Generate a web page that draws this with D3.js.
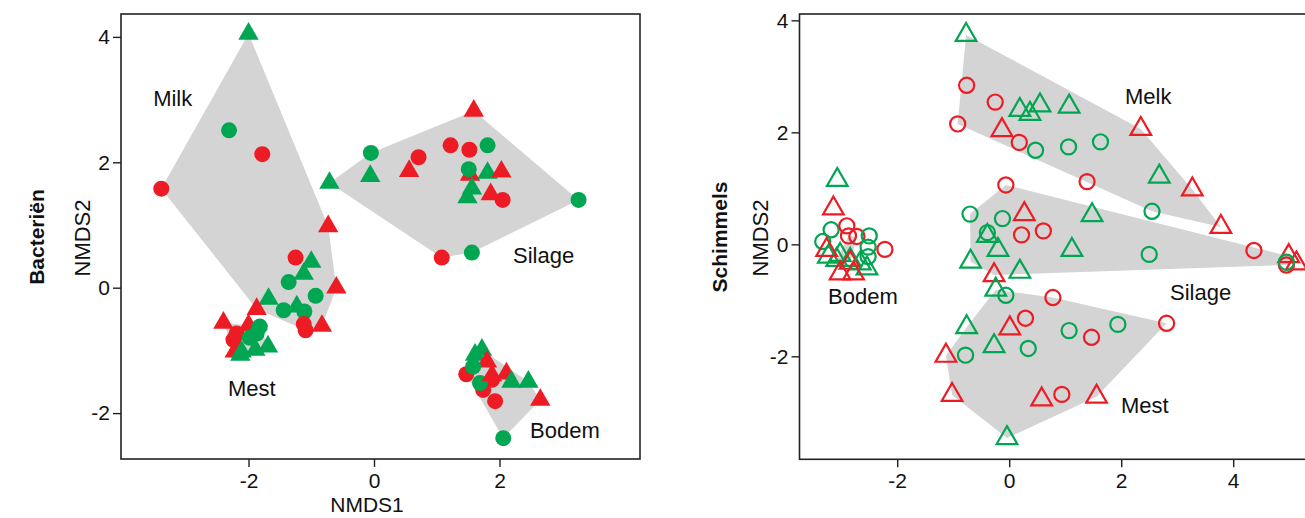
<!DOCTYPE html>
<html>
<head>
<meta charset="utf-8">
<script src="https://cdn.jsdelivr.net/npm/d3@7"></script>
<style>
  body { margin: 0; background: #fff; }
  svg { display: block; font-family: "Liberation Sans", Arial, sans-serif; }
</style>
</head>
<body>
<svg id="chart" width="1305" height="518"></svg>
<script>
// points: [NMDS1, NMDS2, colour+shape]  r/g = red/green, c/t = circle/triangle

// --- Bacterien ---
var bacMilk = [
    [-2.00, 4.05, "gt"], [-3.39, 1.58, "rc"], [-2.31, 2.51, "gc"], [-1.78, 2.13, "rc"],
    [-0.73, 0.98, "rt"], [-1.25, 0.48, "rc"], [-1.00, 0.41, "gt"], [-1.12, 0.22, "gt"],
    [-1.36, 0.09, "gc"], [-0.93, -0.13, "gc"], [-0.60, 0.00, "rt"], [-1.68, -0.18, "gt"],
    [-1.44, -0.36, "gc"], [-1.23, -0.30, "gt"], [-1.11, -0.38, "gc"], [-1.87, -0.34, "rt"],
    [-1.12, -0.58, "rc"], [-1.09, -0.68, "rc"], [-0.83, -0.61, "rt"]
];
var bacMest = [
    [-2.40, -0.56, "rt"], [-2.00, -0.60, "rt"], [-2.22, -1.02, "rt"], [-2.19, -0.73, "rc"],
    [-2.24, -0.83, "rc"], [-1.82, -0.62, "gc"], [-1.98, -0.80, "gc"], [-1.87, -0.73, "gc"],
    [-1.69, -0.94, "gt"], [-2.11, -1.02, "gt"], [-1.89, -0.99, "gt"], [-2.13, -1.07, "gt"]
];
var bacSilage = [
    [-0.71, 1.67, "gt"], [-0.05, 2.15, "gc"], [-0.06, 1.78, "gt"], [0.71, 2.08, "rc"],
    [0.56, 1.86, "rt"], [1.22, 2.27, "rc"], [1.52, 2.20, "rc"], [1.81, 2.27, "gc"],
    [1.59, 2.82, "rt"], [1.53, 1.80, "rt"], [1.51, 1.89, "gc"], [1.81, 1.83, "gt"],
    [2.03, 1.85, "rt"], [1.56, 1.58, "gt"], [1.49, 1.44, "gt"], [1.86, 1.49, "rt"],
    [2.05, 1.40, "rc"], [3.26, 1.40, "gc"], [1.08, 0.48, "rc"], [1.56, 0.56, "gc"]
];
var bacBodem = [
    [1.72, -0.99, "gt"], [1.61, -1.07, "gt"], [1.80, -1.18, "rt"], [1.47, -1.38, "rc"],
    [1.58, -1.26, "gc"], [1.74, -1.63, "rc"], [1.88, -1.47, "rc"], [1.93, -1.81, "rc"],
    [1.69, -1.52, "gc"], [2.11, -1.37, "rt"], [1.88, -1.40, "rt"], [2.19, -1.50, "gt"],
    [2.46, -1.50, "gt"], [2.65, -1.79, "rt"], [2.06, -2.40, "gc"]
];

// --- Schimmels ---
var schMelk = [
    [-0.77, 3.74, "gt"], [-0.76, 2.84, "rc"], [-0.25, 2.54, "rc"], [-0.92, 2.15, "rc"],
    [0.19, 2.40, "gt"], [0.37, 2.33, "gt"], [0.55, 2.48, "gt"], [1.07, 2.46, "gt"],
    [-0.13, 2.04, "rt"], [0.18, 1.82, "rc"], [0.47, 1.68, "gc"], [1.06, 1.74, "gc"],
    [1.63, 1.83, "gc"], [2.35, 2.06, "rt"], [1.39, 1.12, "rc"], [2.68, 1.21, "gt"],
    [3.27, 0.98, "rt"], [2.55, 0.59, "gc"], [3.78, 0.31, "rt"]
];
var schSilage = [
    [-0.06, 1.06, "rc"], [-0.70, 0.54, "gc"], [-0.12, 0.46, "gc"], [0.27, 0.54, "rt"],
    [1.48, 0.52, "gt"], [-0.39, 0.21, "gc"], [-0.39, 0.15, "gt"], [0.22, 0.17, "rc"],
    [0.61, 0.24, "rc"], [-0.20, -0.10, "gt"], [1.12, -0.10, "gt"], [-0.69, -0.31, "gt"],
    [0.19, -0.49, "gt"], [-0.27, -0.55, "rt"], [2.50, -0.18, "gc"], [4.37, -0.11, "rc"],
    [4.99, -0.21, "rt"], [5.13, -0.34, "rt"], [4.95, -0.37, "rc"], [4.95, -0.32, "gc"]
];
var schMest = [
    [-0.24, -0.81, "gt"], [-0.06, -0.91, "gc"], [0.78, -0.95, "rc"], [0.29, -1.32, "rc"],
    [0.01, -1.50, "rt"], [-0.76, -1.48, "gt"], [1.07, -1.54, "gc"], [1.47, -1.66, "rc"],
    [1.94, -1.43, "gc"], [2.81, -1.41, "rc"], [-1.13, -1.99, "rt"], [-0.78, -1.98, "gc"],
    [-0.27, -1.82, "gt"], [0.34, -1.86, "gc"], [-1.02, -2.69, "rt"], [0.58, -2.77, "rt"],
    [0.94, -2.68, "rc"], [1.56, -2.72, "rt"], [-0.04, -3.46, "gt"]
];
// bodem: first block forms the hull, the rest lies around it
var schBodem = [
    [-3.02, -0.19, "gt"], [-2.84, -0.28, "gt"], [-2.87, 0.15, "rc"], [-2.72, 0.14, "rc"],
    [-3.08, -0.28, "gt"], [-2.84, -0.33, "rt"]
];
var schBodemRest = [
    [-3.07, 1.15, "gt"], [-3.14, 0.64, "rt"], [-3.18, 0.26, "gc"], [-3.33, 0.05, "gc"],
    [-2.50, 0.15, "gc"], [-2.52, -0.05, "gc"], [-2.52, -0.22, "gc"], [-2.90, 0.33, "rc"],
    [-2.22, -0.09, "rc"], [-3.23, -0.22, "gt"], [-2.66, -0.34, "gt"], [-2.54, -0.43, "gt"],
    [-3.26, -0.10, "rt"], [-3.02, -0.52, "rt"], [-2.78, -0.52, "rt"]
];

var xTicks = [-2, 0, 2];
var xTicksSch = [-2, 0, 2, 4];
var yTicks = [-2, 0, 2, 4];

var RED = "#ed1c24", GREEN = "#00a651", HULL = "#d4d4d4";

var svg = d3.select("#chart");

function drawPanel(props) {
    var x = d3.scaleLinear().domain(props.xDomain).range([props.left, props.right]),
        y = d3.scaleLinear().domain(props.yDomain).range([props.bottom, props.top]),
        g = svg.append("g");

    // hulls
    props.hulls.forEach(function(pts) {
        var hull = d3.polygonHull(pts.map(function(p) { return [x(p[0]), y(p[1])]; }));
        g.append("path")
            .attr("d", "M" + hull.join("L") + "Z")
            .attr("fill", HULL);
    });

    // points
    var all = [].concat.apply([], props.points);
    var circle = d3.symbol().type(d3.symbolCircle).size(props.circleSize),
        tri = d3.symbol().type(d3.symbolTriangle).size(props.triSize);

    g.selectAll("path.pt")
        .data(all)
        .enter()
        .append("path")
        .attr("class", "pt")
        .attr("transform", function(d) { return "translate(" + x(d[0]) + "," + y(d[1]) + ")"; })
        .attr("d", function(d) { return d[2][1] === "c" ? circle() : tri(); })
        .each(function(d) {
            var col = d[2][0] === "r" ? RED : GREEN;
            if (props.filled) {
                d3.select(this).attr("fill", col);
            } else {
                d3.select(this).attr("fill", "none").attr("stroke", col).attr("stroke-width", 2.2);
            }
        });

    // group labels
    props.labels.forEach(function(l) {
        g.append("text")
            .attr("x", x(l[1]))
            .attr("y", y(l[2]))
            .attr("font-size", 22)
            .attr("fill", "#111")
            .text(l[0]);
    });

    // frame
    g.append("rect")
        .attr("x", props.left)
        .attr("y", props.top)
        .attr("width", props.right - props.left)
        .attr("height", props.bottom - props.top)
        .attr("fill", "none")
        .attr("stroke", "#222")
        .attr("stroke-width", 1.6);

    var xAxis = g.append("g")
        .attr("transform", "translate(0," + props.bottom + ")")
        .call(d3.axisBottom(x).tickValues(props.xTicks).tickSize(8).tickPadding(6).tickFormat(d3.format("d")));
    var yAxis = g.append("g")
        .attr("transform", "translate(" + props.left + ",0)")
        .call(d3.axisLeft(y).tickValues(yTicks).tickSize(8).tickPadding(3).tickFormat(d3.format("d")));

    [xAxis, yAxis].forEach(function(a) {
        a.select(".domain").remove();
        a.selectAll("line").attr("stroke", "#222").attr("stroke-width", 1.4);
        a.selectAll("text")
            .attr("font-size", 21)
            .attr("fill", "#111")
            .attr("font-family", "Liberation Sans, Arial, sans-serif")
            .text(function(d) { return d < 0 ? "-" + Math.abs(d) : d; });
    });

    // titles
    g.append("text")
        .attr("transform", "translate(" + props.yTitleX + ",238) rotate(-90)")
        .attr("text-anchor", "middle")
        .attr("font-size", 22)
        .attr("fill", "#111")
        .text("NMDS2");
    g.append("text")
        .attr("transform", "translate(" + props.panelTitleX + ",237) rotate(-90)")
        .attr("text-anchor", "middle")
        .attr("font-size", 21)
        .attr("font-weight", "bold")
        .attr("fill", "#111")
        .text(props.title);
    if (props.xTitle) {
        g.append("text")
            .attr("x", 367)
            .attr("y", 512)
            .attr("text-anchor", "middle")
            .attr("font-size", 21)
            .attr("fill", "#111")
            .text(props.xTitle);
    }
}

drawPanel({
    title: "Bacteriën",
    xTitle: "NMDS1",
    left: 121, right: 640, top: 14, bottom: 459,
    xDomain: [-4.032, 4.239], yDomain: [-2.732, 4.365],
    xTicks: xTicks,
    yTitleX: 90, panelTitleX: 44,
    filled: true, circleSize: 201, triSize: 180,
    hulls: [bacMilk, bacMest, bacSilage, bacBodem],
    points: [bacMilk, bacSilage, bacBodem, bacMest],
    labels: [["Milk", -3.52, 2.90], ["Silage", 2.215, 0.394], ["Mest", -2.327, -1.727], ["Bodem", 2.486, -2.396]]
});

drawPanel({
    title: "Schimmels",
    left: 799.5, right: 1320, top: 14, bottom: 459.3,
    xDomain: [-3.745, 5.55], yDomain: [-3.839, 4.113],
    xTicks: xTicksSch,
    yTitleX: 768, panelTitleX: 727,
    filled: false, circleSize: 180, triSize: 185,
    hulls: [schMelk, schSilage, schMest, schBodem],
    points: [schMelk, schSilage, schMest, schBodem, schBodemRest],
    labels: [["Melk", 2.068, 2.505], ["Silage", 2.871, -0.995], ["Mest", 1.996, -3.013], ["Bodem", -3.236, -1.066]]
});
</script>
</body>
</html>
